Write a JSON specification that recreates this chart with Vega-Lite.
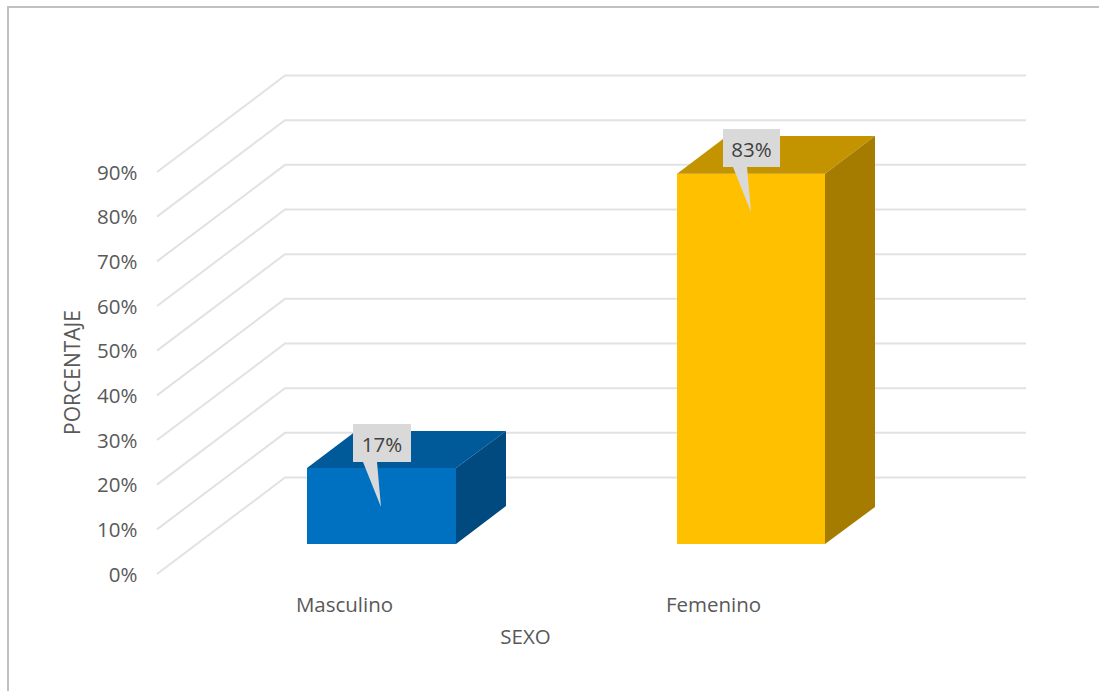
{
"$schema":"https://vega.github.io/schema/vega-lite/v6.json",
"width":869,"height":402,
"autosize":{"type":"none"},
"padding":{"left":157,"top":172,"right":73,"bottom":117},
"background":"white",
"config":{"view":{"stroke":null},"font":"Open Sans"},
"layer":[
{"data":{"values":[
{"s":"b","o":1,"x":-149,"y":-0.262},{"s":"b","o":2,"x":-149,"y":1.2694},{"s":"b","o":3,"x":942,"y":1.2694}
]},
"mark":{"type":"line","color":"#c0c0c0","strokeWidth":2},
"encoding":{
"x":{"field":"x","type":"quantitative","scale":{"domain":[0,869],"nice":false,"zero":false},
 "axis":{"values":[187,556],"labelExpr":"datum.value==187?'Masculino':'Femenino'","title":"SEXO","domain":false,"ticks":false,"grid":false,"labelFontSize":20.5,"labelColor":"#595959","labelPadding":21,"labelFlush":false,"titleFontSize":20.5,"titleFontWeight":"normal","titleColor":"#595959","titleX":368,"titleY":53,"titleAnchor":"middle"}},
"y":{"field":"y","type":"quantitative","scale":{"domain":[0,0.9],"nice":false,"zero":false},
 "axis":{"values":[0,0.1,0.2,0.3,0.4,0.5,0.6,0.7,0.8,0.9],"format":".0%","title":"PORCENTAJE","domain":false,"ticks":false,"grid":false,"labelFontSize":20.5,"labelColor":"#595959","labelPadding":20,"labelOffset":1,"titleFontSize":21,"titleFontWeight":"normal","titleColor":"#595959","titleX":-74,"titleY":200,"titleAnchor":"middle"}},
"detail":{"field":"s"},
"order":{"field":"o"}
}},
{"data":{"values":[
{"p":0,"x":0,"y":0},{"p":0,"x":128,"y":0.216},{"p":0,"x":869,"y":0.216},
{"p":0.1,"x":0,"y":0.1},{"p":0.1,"x":128,"y":0.316},{"p":0.1,"x":869,"y":0.316},
{"p":0.2,"x":0,"y":0.2},{"p":0.2,"x":128,"y":0.416},{"p":0.2,"x":869,"y":0.416},
{"p":0.3,"x":0,"y":0.3},{"p":0.3,"x":128,"y":0.516},{"p":0.3,"x":869,"y":0.516},
{"p":0.4,"x":0,"y":0.4},{"p":0.4,"x":128,"y":0.616},{"p":0.4,"x":869,"y":0.616},
{"p":0.5,"x":0,"y":0.5},{"p":0.5,"x":128,"y":0.716},{"p":0.5,"x":869,"y":0.716},
{"p":0.6,"x":0,"y":0.6},{"p":0.6,"x":128,"y":0.816},{"p":0.6,"x":869,"y":0.816},
{"p":0.7,"x":0,"y":0.7},{"p":0.7,"x":128,"y":0.916},{"p":0.7,"x":869,"y":0.916},
{"p":0.8,"x":0,"y":0.8},{"p":0.8,"x":128,"y":1.016},{"p":0.8,"x":869,"y":1.016},
{"p":0.9,"x":0,"y":0.9},{"p":0.9,"x":128,"y":1.116},{"p":0.9,"x":869,"y":1.116}
]},
"mark":{"type":"line","color":"#e2e2e2","strokeWidth":2},
"encoding":{"x":{"field":"x","type":"quantitative"},"y":{"field":"y","type":"quantitative"},"detail":{"field":"p"}}},
{"data":{"values":[
{"f":"Masculino frente","x":150,"y":0.2373,"y2":0.0672},{"f":"Masculino frente","x":299,"y":0.2373,"y2":0.0672},
{"f":"Masculino arriba","x":150,"y":0.2373,"y2":0.2373},{"f":"Masculino arriba","x":199,"y":0.3201,"y2":0.2373},{"f":"Masculino arriba","x":299,"y":0.3201,"y2":0.2373},{"f":"Masculino arriba","x":349,"y":0.3201,"y2":0.3201},
{"f":"Masculino lado","x":299,"y":0.2373,"y2":0.0672},{"f":"Masculino lado","x":349,"y":0.3201,"y2":0.1522},
{"f":"Femenino frente","x":520,"y":0.896,"y2":0.0672},{"f":"Femenino frente","x":668,"y":0.896,"y2":0.0672},
{"f":"Femenino arriba","x":520,"y":0.896,"y2":0.896},{"f":"Femenino arriba","x":570,"y":0.9806,"y2":0.896},{"f":"Femenino arriba","x":668,"y":0.9806,"y2":0.896},{"f":"Femenino arriba","x":718,"y":0.9806,"y2":0.9806},
{"f":"Femenino lado","x":668,"y":0.896,"y2":0.0672},{"f":"Femenino lado","x":718,"y":0.9806,"y2":0.15},
{"f":"Globo 17 caja","x":196,"y":0.3358,"y2":0.2507},{"f":"Globo 17 caja","x":254,"y":0.3358,"y2":0.2507},
{"f":"Globo 17 punta","x":206,"y":0.2507,"y2":0.2507},{"f":"Globo 17 punta","x":220,"y":0.2507,"y2":0.1724},{"f":"Globo 17 punta","x":224,"y":0.15,"y2":0.15},
{"f":"Globo 83 caja","x":566,"y":0.9963,"y2":0.9112},{"f":"Globo 83 caja","x":623,"y":0.9963,"y2":0.9112},
{"f":"Globo 83 punta","x":576,"y":0.9112,"y2":0.9112},{"f":"Globo 83 punta","x":590,"y":0.9112,"y2":0.8328},{"f":"Globo 83 punta","x":594,"y":0.8104,"y2":0.8104}
]},
"mark":{"type":"area","interpolate":"linear"},
"encoding":{
"x":{"field":"x","type":"quantitative"},
"y":{"field":"y","type":"quantitative","stack":null},
"y2":{"field":"y2"},
"color":{"field":"f","type":"nominal","legend":null,"scale":{
"domain":["Masculino frente","Masculino arriba","Masculino lado","Femenino frente","Femenino arriba","Femenino lado","Globo 17 caja","Globo 17 punta","Globo 83 caja","Globo 83 punta"],
"range":["#0070c0","#005a9a","#004a7f","#ffc000","#c49300","#a57c00","#d9d9d9","#d9d9d9","#d9d9d9","#d9d9d9"]}},
"order":{"field":"f"}
}},
{"data":{"values":[
{"categoria":"Masculino","valor":0.17,"x":225,"y":0.287},
{"categoria":"Femenino","valor":0.83,"x":594.5,"y":0.947}
]},
"mark":{"type":"text","fontSize":20.5,"color":"#404040","align":"center","baseline":"middle"},
"encoding":{"x":{"field":"x","type":"quantitative"},"y":{"field":"y","type":"quantitative"},"text":{"field":"valor","type":"quantitative","format":".0%"}}}
]
}
